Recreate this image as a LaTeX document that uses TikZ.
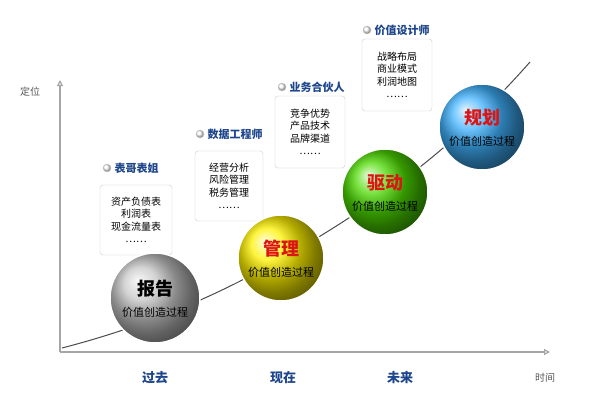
\documentclass[tikz,border=0pt]{standalone}
\usepackage{fontspec}
\setmainfont{Noto Sans CJK SC}
\usetikzlibrary{arrows.meta}
\definecolor{tblue}{RGB}{30,70,140}
\definecolor{tred}{RGB}{220,20,20}
\tikzset{
  ball/.style={circle,minimum size=#1,inner sep=0pt,draw=white,line width=1.5pt},
  infobox/.style={draw=gray!40,rounded corners=3pt,fill=white,align=center,font=\fontsize{10}{12.5}\selectfont,inner sep=4pt},
  ttl/.style={font=\bfseries\fontsize{11}{13}\selectfont,text=tblue,anchor=west},
  dot/.style={circle,inner sep=0pt,minimum size=8pt,ball color=white,draw=gray!40},
  axlab/.style={font=\fontsize{10}{12}\selectfont,text=gray!70!black},
  era/.style={font=\bfseries\fontsize{13}{15}\selectfont,text=tblue},
  big/.style={font=\bfseries\fontsize{18}{20}\selectfont},
  sub/.style={font=\fontsize{11}{13}\selectfont}
}
\begin{document}
\begin{tikzpicture}[x=1pt,y=1pt]
\useasboundingbox (0,0) rectangle (600,400);
\fill[white] (0,0) rectangle (600,400);
\coordinate (O) at (60,48);
\coordinate (Y) at (60,320);
\coordinate (X) at (550,48);
\draw[gray!70,line width=1.2pt,-{Triangle[open,length=6pt,width=6pt]}] (O) -- (Y);
\draw[gray!70,line width=1.2pt,-{Triangle[open,length=6pt,width=6pt]}] (O) -- (X);
\node[axlab] (dw) at (30,308) {定位};
\node[axlab] (sj) at (545,22) {时间};
\node[era] (e1) at (155,22) {过去};
\node[era] (e2) at (283,22) {现在};
\node[era] (e3) at (400,22) {未来};
\draw[gray!60!black,line width=1pt] (62,52) .. controls (170,80) and (250,120) .. (330,170) .. controls (410,220) and (470,270) .. (530,338);
% boxes
\node[infobox,minimum width=72pt,minimum height=70pt] (b1) at (136,180) {资产负债表\\利润表\\现金流量表\\……};
\node[infobox,minimum width=68pt,minimum height=70pt] (b2) at (229,214) {经营分析\\风险管理\\税务管理\\……};
\node[infobox,minimum width=70pt,minimum height=72pt] (b3) at (310,268) {竞争优势\\产品技术\\品牌渠道\\……};
\node[infobox,minimum width=70pt,minimum height=72pt] (b4) at (397,325) {战略布局\\商业模式\\利润地图\\……};
\node[dot] (d1) at (107,232) {};
\node[ttl] (t1) at (d1.east) {表哥表姐};
\node[dot] (d2) at (200,266) {};
\node[ttl] (t2) at (d2.east) {数据工程师};
\node[dot] (d3) at (282,313) {};
\node[ttl] (t3) at (d3.east) {业务合伙人};
\node[dot] (d4) at (367,370) {};
\node[ttl] (t4) at (d4.east) {价值设计师};
% balls
\node[ball=90pt,ball color=gray!45] (c1) at (155,102) {};
\node[big] at (155,111) {报告};
\node[sub] at (155,88) {价值创造过程};
\node[ball=86pt,ball color=yellow!90!orange] (c2) at (281,142) {};
\node[big,text=tred] at (281,151) {管理};
\node[sub] at (281,128) {价值创造过程};
\node[ball=86pt,ball color=green!65!yellow!85!black] (c3) at (385,208) {};
\node[big,text=tred] at (385,217) {驱动};
\node[sub] at (385,194) {价值创造过程};
\node[ball=86pt,ball color=cyan!60!blue!75] (c4) at (482,273) {};
\node[big,text=tred] at (482,282) {规划};
\node[sub] at (482,259) {价值创造过程};
\end{tikzpicture}
\end{document}
